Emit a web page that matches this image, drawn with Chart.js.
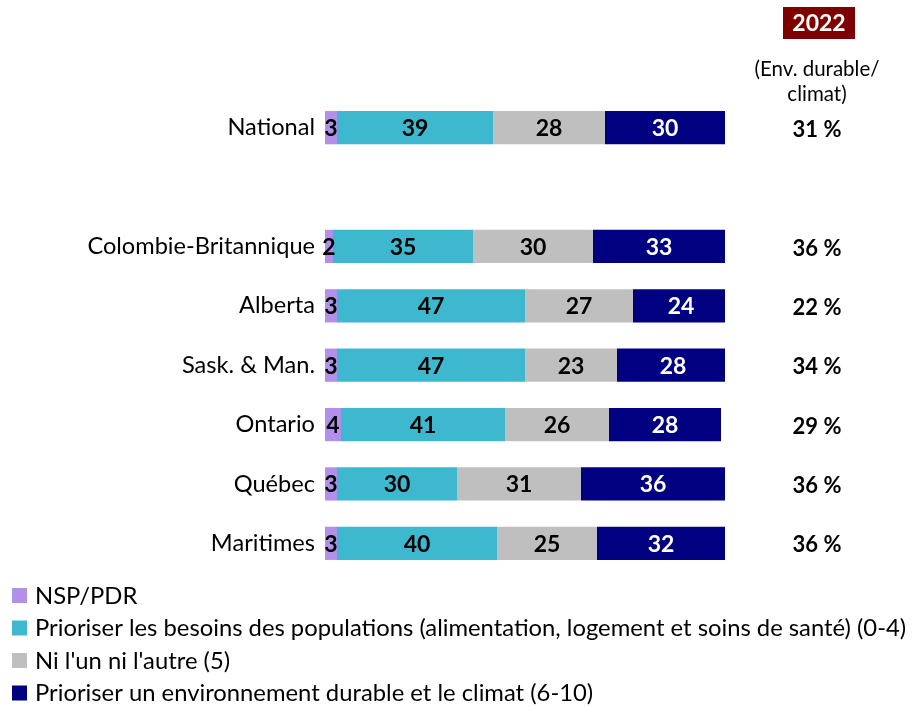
<!DOCTYPE html>
<html>
<head>
<meta charset="utf-8">
<script src="https://cdn.jsdelivr.net/npm/chart.js@4.4.1/dist/chart.umd.min.js"></script>
<style>
  html, body { margin: 0; padding: 0; background: #ffffff; }
  #wrap { position: relative; width: 916px; height: 707px; }
</style>
</head>
<body>
<div id="wrap"><canvas id="c" width="916" height="707"></canvas></div>
<script>
// ---- Data ----
const categories = ['National', '', 'Colombie-Britannique', 'Alberta', 'Sask. & Man.', 'Ontario', 'Québec', 'Maritimes'];
const nspValues = [3, null, 2, 3, 3, 4, 3, 3];
const besoinsValues = [39, null, 35, 47, 47, 41, 30, 40];
const niValues = [28, null, 30, 27, 23, 26, 31, 25];
const envValues = [30, null, 33, 24, 28, 28, 36, 32];
const env2022Values = [31, null, 36, 22, 34, 29, 36, 36];
const seriesLabels = [
  'NSP/PDR',
  'Prioriser les besoins des populations (alimentation, logement et soins de santé) (0-4)',
  "Ni l'un ni l'autre (5)",
  'Prioriser un environnement durable et le climat (6-10)'
];
const headerYear = '2022';
const headerSubLines = ['(Env. durable/', 'climat)'];

// ---- Styles ----
const FONT = 'Lato, "Open Sans", sans-serif';
const colors = ['#B18FEA', '#3EB8CF', '#BFBFBF', '#000080'];
const labelColors = ['#000000', '#000000', '#000000', '#FFFFFF'];

const segmentLabels = {
  id: 'segmentLabels',
  afterDatasetsDraw(chart) {
    const ctx = chart.ctx;
    ctx.save();
    ctx.font = 'bold 23px ' + FONT;
    ctx.textAlign = 'center';
    ctx.textBaseline = 'middle';
    chart.data.datasets.forEach((ds, di) => {
      const meta = chart.getDatasetMeta(di);
      meta.data.forEach((bar, i) => {
        const v = ds.data[i];
        if (v === null || v === undefined) return;
        const p = bar.getProps(['x', 'y', 'base'], true);
        const cx = (p.x + p.base) / 2;
        ctx.fillStyle = labelColors[di];
        ctx.fillText(String(v), cx, p.y + 1);
      });
    });
    ctx.restore();
  }
};

const rightColumn = {
  id: 'rightColumn',
  afterDraw(chart) {
    const ctx = chart.ctx;
    const yScale = chart.scales.y;
    const colX = 817;
    ctx.save();
    // header box
    ctx.fillStyle = '#7F0000';
    ctx.fillRect(783, 7, 72, 32);
    ctx.fillStyle = '#FFFFFF';
    ctx.font = 'bold 23px ' + FONT;
    ctx.textAlign = 'center';
    ctx.textBaseline = 'middle';
    ctx.fillText(headerYear, 819, 24);
    ctx.fillStyle = '#000000';
    ctx.font = '20.5px ' + FONT;
    ctx.fillText(headerSubLines[0], colX, 69);
    ctx.fillText(headerSubLines[1], colX, 94);
    // values
    ctx.font = 'bold 22px ' + FONT;
    env2022Values.forEach((v, i) => {
      if (v === null) return;
      const y = yScale.getPixelForValue(i);
      ctx.fillText(v + ' %', colX, y + 2);
    });
    ctx.restore();
  }
};

const legendBlock = {
  id: 'legendBlock',
  afterDraw(chart) {
    const ctx = chart.ctx;
    ctx.save();
    ctx.font = '23.8px ' + FONT;
    ctx.textAlign = 'left';
    ctx.textBaseline = 'middle';
    chart.data.datasets.forEach((ds, i) => {
      const y = 596 + i * 32.5;
      ctx.fillStyle = ds.backgroundColor;
      ctx.fillRect(12, y - 8, 15, 15);
      ctx.fillStyle = '#000000';
      ctx.fillText(ds.label, 35, y);
    });
    ctx.restore();
  }
};

new Chart(document.getElementById('c'), {
  type: 'bar',
  data: {
    labels: categories,
    datasets: [
      { label: seriesLabels[0], data: nspValues, backgroundColor: colors[0] },
      { label: seriesLabels[1], data: besoinsValues, backgroundColor: colors[1] },
      { label: seriesLabels[2], data: niValues, backgroundColor: colors[2] },
      { label: seriesLabels[3], data: envValues, backgroundColor: colors[3] }
    ]
  },
  options: {
    indexAxis: 'y',
    responsive: false,
    animation: false,
    layout: { padding: { top: 98, bottom: 134, left: 0, right: 191 } },
    datasets: { bar: { barPercentage: 0.56, categoryPercentage: 1.0 } },
    plugins: { legend: { display: false }, tooltip: { enabled: false } },
    scales: {
      x: { stacked: true, min: 0, max: 100, display: false },
      y: {
        stacked: true,
        grid: { display: false, drawTicks: false },
        border: { display: false },
        ticks: { color: '#000000', font: { family: FONT, size: 23.6 }, padding: 10 },
        afterFit(scale) { scale.width = 325; }
      }
    }
  },
  plugins: [segmentLabels, rightColumn, legendBlock]
});
</script>
</body>
</html>
